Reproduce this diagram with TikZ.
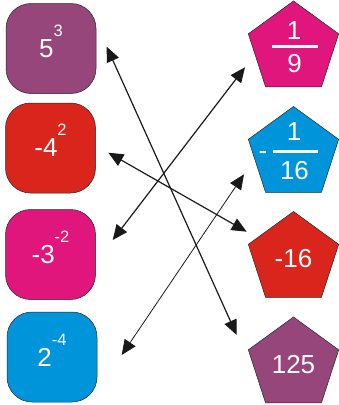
\documentclass[tikz,border=0pt]{standalone}
\usepackage{fontspec}
\setmainfont{Liberation Sans}
\usetikzlibrary{shapes.geometric,arrows.meta}
\definecolor{cpurple}{RGB}{150,70,122}
\definecolor{cred}{RGB}{218,37,29}
\definecolor{cmagenta}{RGB}{224,22,125}
\definecolor{cblue}{RGB}{0,149,218}
\newcommand{\bigfont}{\fontsize{26pt}{30pt}\selectfont}
\newcommand{\pwr}[2]{#1\smash{\raisebox{21pt}{\fontsize{16.5pt}{18pt}\selectfont #2}}}
\begin{document}
\begin{tikzpicture}[x=1pt,y=-1pt]
    \tikzset{
        sqbox/.style={draw=black!85, line width=0.5pt, rounded corners=25pt, minimum width=90pt, minimum height=90pt, text=white, font=\bigfont},
        pent/.style={draw=black!85, line width=0.5pt, regular polygon, regular polygon sides=5, minimum size=95pt, inner sep=0pt, text=white, font=\bigfont},
        numtxt/.style={text=white, inner sep=0pt, font=\bigfont},
        arc/.style={{Triangle[length=15pt,width=13pt]}-{Triangle[length=15pt,width=13pt]}, line width=1.2pt, draw=black!90}
    }
    \useasboundingbox (0,0) rectangle (338,405);

    % left column
    \draw node[sqbox, fill=cpurple] (sq1) at (51,48.5) {\pwr{5}{3}};
    \draw node[sqbox, fill=cred] (sq2) at (50.5,148) {\pwr{-4}{2}};
    \draw node[sqbox, fill=cmagenta] (sq3) at (50.5,254.5) {\pwr{-3}{-2}};
    \draw node[sqbox, fill=cblue] (sq4) at (52,357) {\pwr{2}{-4}};

    % right column
    \draw node[pent, fill=cmagenta] (pg1) at (293.5,48.5) {};
    \draw node[pent, fill=cblue] (pg2) at (293.5,154) {};
    \draw node[pent, fill=cred] (pg3) at (293.5,259) {-16};
    \draw node[pent, fill=cpurple] (pg4) at (293.5,364.5) {125};

    \node[numtxt] (pg1n) at (294,30.5) {1};
    \fill[white] (272,45) rectangle (318,48.3);
    \node[numtxt] (pg1d) at (294.5,63.5) {9};

    \node[numtxt, anchor=base] (pg2m) at (263,159.4) {-};
    \node[numtxt] (pg2n) at (294,132) {1};
    \fill[white] (273,149.5) rectangle (318,153);
    \node[numtxt] (pg2d) at (294.5,171) {16};

    % arrow ends
    \coordinate (s1e) at (106.7,46.7);
    \coordinate (g4e) at (236.7,335);
    \coordinate (g1e) at (245,67.3);
    \coordinate (s3e) at (112.7,240);
    \coordinate (s2e) at (108.3,152.7);
    \coordinate (g3e) at (246.7,231.7);
    \coordinate (g2e) at (244,174.3);
    \coordinate (s4e) at (121.7,355);

    \draw[arc] (s1e) -- (g4e);
    \draw[arc] (g1e) -- (s3e);
    \draw[arc] (s2e) -- (g3e);
    \draw[arc, line width=0.8pt] (g2e) -- (s4e);
\end{tikzpicture}
\end{document}
